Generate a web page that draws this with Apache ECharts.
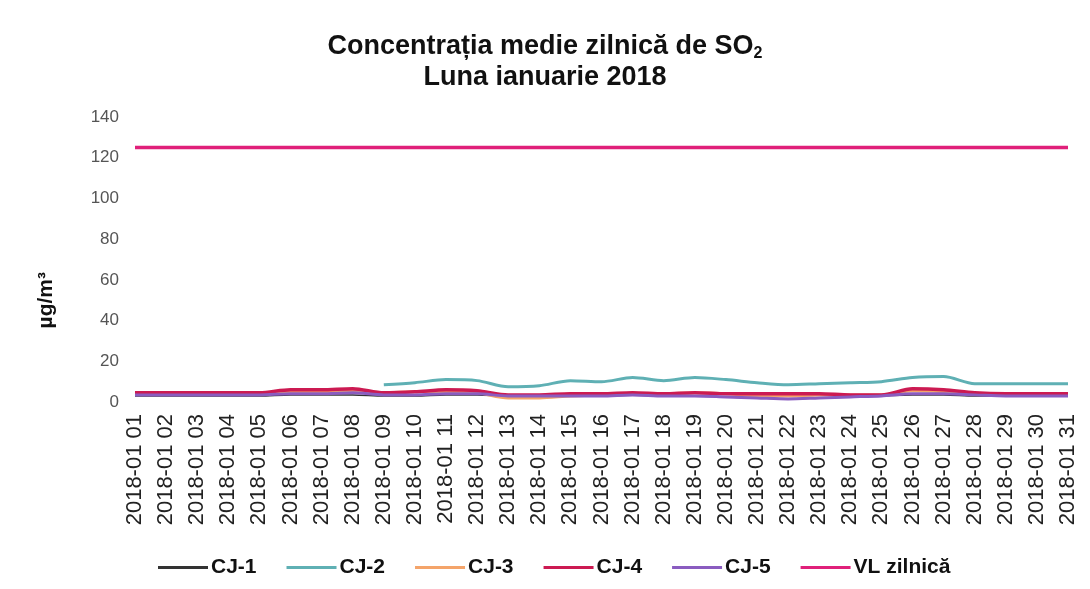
<!DOCTYPE html>
<html><head><meta charset="utf-8">
<script src="https://cdn.jsdelivr.net/npm/echarts@6/dist/echarts.min.js"></script>
<style>html,body{margin:0;padding:0;background:#fff}#c{width:1090px;height:589px}</style>
</head><body><div id="c"></div>
<script>
const categories = ["2018-01 01","2018-01 02","2018-01 03","2018-01 04","2018-01 05","2018-01 06","2018-01 07","2018-01 08","2018-01 09","2018-01 10","2018-01 11","2018-01 12","2018-01 13","2018-01 14","2018-01 15","2018-01 16","2018-01 17","2018-01 18","2018-01 19","2018-01 20","2018-01 21","2018-01 22","2018-01 23","2018-01 24","2018-01 25","2018-01 26","2018-01 27","2018-01 28","2018-01 29","2018-01 30","2018-01 31"];
const cj1 = [3,3,3,3,3,3.5,3.5,3.5,3,3,3.5,3.5,3,3,3,3,3.5,3,3,2.5,2,1.5,2,2.5,3,3.5,3.5,3,3,3,3];
const cj2 = [null,null,null,null,null,null,null,null,8.5,9.5,11,10.5,7.5,8,10.5,10,12,10.5,12,11,9.5,8.5,9,9.5,10,12,12.5,9,9,9,9];
const cj3 = [4,4,4,4,4,5,5,5.5,4.5,5,5,4.5,2,2,3,3.5,4,4,4.5,4,3,3,3.5,3.5,3.5,5.5,5,4,4,4,4];
const cj4 = [4.5,4.5,4.5,4.5,4.5,6,6,6.5,4.5,5,6,5.5,3.5,3.5,4,4,4.5,4,4.5,4,4,4,4,3.5,3.5,6.5,6,4.5,4,4,4];
const cj5 = [3.5,3.5,3.5,3.5,3.5,4,4,4.5,3.5,3.5,4,4,3,3,3,3,3.5,3,3,2.5,2,1.5,2,2.5,3,4,4,3.5,3,3,3];
const vl = Array(31).fill(125);
const yTicks = [0,20,40,60,80,100,120,140];

const chart = echarts.init(document.getElementById('c'));
const mk = (name, data, color, w) => ({name, type:'line', data, smooth:0.3, symbol:'none', connectNulls:false,
  lineStyle:{color, width:w}, itemStyle:{color}});
chart.setOption({
  animation:false,
  backgroundColor:'#fff',
  textStyle:{fontFamily:'Liberation Sans, Arial, sans-serif'},
  title:{left:'center', top:26, itemGap:4,
    text:'{a|Concentrația medie zilnică de SO}{s|2}\n{a|Luna ianuarie 2018}',
    textStyle:{rich:{a:{fontSize:27,fontWeight:'bold',color:'#111',lineHeight:31,fontFamily:'Liberation Sans, Arial'},
      s:{fontSize:16,fontWeight:'bold',color:'#111',verticalAlign:'bottom',padding:[14,0,0,0],fontFamily:'Liberation Sans, Arial'}}}},
  grid:{left:135,right:22,top:117,bottom:187},
  legend:{bottom:6,left:153,itemGap:30,itemWidth:50,itemHeight:3,icon:'rect',
    textStyle:{fontSize:21,fontWeight:'bold',color:'#111',padding:[0,0,0,-2]},
    data:['CJ-1','CJ-2','CJ-3','CJ-4','CJ-5','VL zilnică']},
  xAxis:{type:'category',data:categories,boundaryGap:false,
    axisLine:{show:false},axisTick:{show:false},splitLine:{show:false},
    axisLabel:{rotate:90,fontSize:22,color:'#222',interval:0,margin:12}},
  yAxis:{type:'value',min:0,max:140,interval:20,
    axisLine:{show:false},axisTick:{show:false},splitLine:{show:false},
    axisLabel:{fontSize:17,color:'#555',margin:16,formatter:v=>yTicks.includes(v)?String(v):''}},
  graphic:[{type:'text',left:36,top:272,rotation:Math.PI/2,
    style:{text:'µg/m³',fontSize:21,fontWeight:'bold',fill:'#111',fontFamily:'Liberation Sans, Arial'}}],
  series:[
    mk('CJ-1',cj1,'#333333',1.5),
    mk('CJ-2',cj2,'#5fb0b4',3),
    mk('CJ-3',cj3,'#f4a46a',3),
    mk('CJ-4',cj4,'#cc1a52',3.5),
    mk('CJ-5',cj5,'#8a5cc0',3),
    mk('VL zilnică',vl,'#e0207a',3.5)
  ]
});
</script></body></html>
